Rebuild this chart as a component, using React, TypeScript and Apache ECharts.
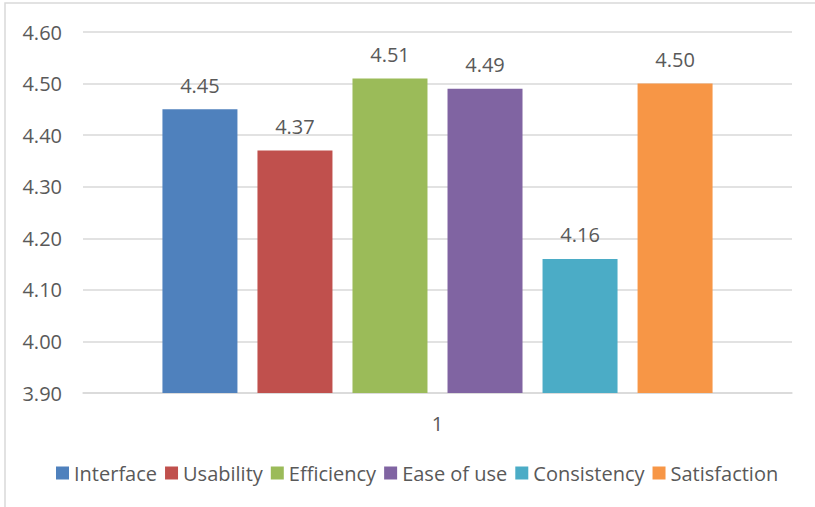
import React, { useEffect, useRef } from "react";
import * as echarts from "echarts";

const categories = ["1"];
const seriesNames = ["Interface", "Usability", "Efficiency", "Ease of use", "Consistency", "Satisfaction"];
const seriesValues = [4.45, 4.37, 4.51, 4.49, 4.16, 4.5];
const seriesColors = ["#4F81BD", "#C0504D", "#9BBB59", "#8064A2", "#4BACC6", "#F79646"];
const yMin = 3.9;
const yMax = 4.6;
const yInterval = 0.1;

const FONT = "'Open Sans', sans-serif";
const TEXT = "#595959";

export default function App() {
  const ref = useRef<HTMLDivElement>(null);
  useEffect(() => {
    if (!ref.current) return;
    const chart = echarts.init(ref.current, undefined, { renderer: "svg" });
    chart.setOption({
      animation: false,
      backgroundColor: "#ffffff",
      textStyle: { fontFamily: FONT },
      graphic: [
        {
          type: "rect",
          shape: { x: 5, y: 3, width: 900, height: 600 },
          style: { fill: "none", stroke: "#D9D9D9", lineWidth: 1.5 },
          silent: true,
        },
      ],
      grid: { left: 83, right: 23, top: 32, bottom: 114, containLabel: false },
      legend: {
        bottom: 19,
        left: 51,
        itemWidth: 13,
        itemHeight: 13,
        itemGap: 8,
        icon: "rect",
        textStyle: { color: TEXT, fontSize: 20, fontFamily: FONT },
        data: seriesNames,
      },
      xAxis: {
        type: "category",
        data: categories,
        axisLine: { lineStyle: { color: "#D9D9D9", width: 1.5 } },
        axisTick: { show: false },
        axisLabel: { color: TEXT, fontSize: 20, fontFamily: FONT, margin: 20 },
      },
      yAxis: {
        type: "value",
        min: yMin,
        max: yMax,
        interval: yInterval,
        axisLine: { show: false },
        axisTick: { show: false },
        splitLine: { lineStyle: { color: "#D9D9D9", width: 1.5 } },
        axisLabel: {
          color: TEXT,
          fontSize: 20,
          fontFamily: FONT,
          margin: 21,
          formatter: (v: number) => v.toFixed(2),
        },
      },
      series: seriesNames.map((name, i) => ({
        name,
        type: "bar",
        data: [seriesValues[i]],
        barWidth: 75,
        barGap: "26.7%",
        itemStyle: { color: seriesColors[i] },
        label: {
          show: true,
          position: "top",
          distance: 14,
          color: TEXT,
          fontSize: 20,
          fontFamily: FONT,
          formatter: (p: any) => Number(p.value).toFixed(2),
        },
      })),
    });
    return () => chart.dispose();
  }, []);
  return (
    <div
      ref={ref}
      style={{ position: "fixed", left: 0, top: 0, width: 815, height: 507 }}
    />
  );
}
